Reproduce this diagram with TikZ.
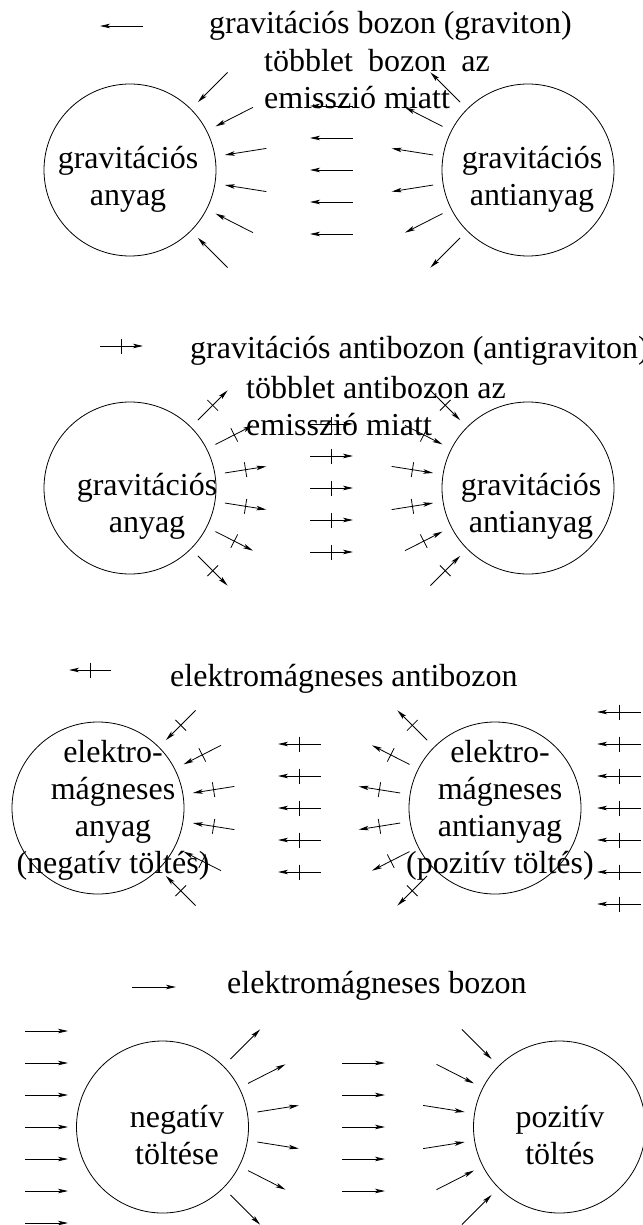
\documentclass[tikz,border=0pt]{standalone}
\usepackage{fontspec}
\setmainfont{Liberation Serif}
\usetikzlibrary{arrows.meta,calc,decorations.markings}
\tikzset{
  orb/.style={circle, draw, line width=0.8pt, minimum size=172pt, inner sep=0pt},
  lbl/.style={font=\fontsize{32}{37}\selectfont, inner sep=0pt, align=center, anchor=base},
  ttl/.style={font=\fontsize{32}{37}\selectfont, inner sep=0pt, align=left, anchor=base west},
  bos/.style={draw, line width=0.8pt, -{Stealth[length=10pt,width=4.5pt,inset=2.5pt]}},
  abos/.style={bos, postaction={decorate},
    decoration={markings, mark=at position 0.5 with {\draw[-, line width=0.8pt] (0,-7.5pt) -- (0,7.5pt);}}}
}
\begin{document}
\begin{tikzpicture}[x=1pt, y=-1pt]
  \useasboundingbox (0,0) rectangle (642,1225);
  % panel 1 (multi-line texts sit on their last baseline)
  \node[orb] (g1l) at (130,170) {};\node[orb] (g1r) at (528,170) {};
  \node[lbl] (t1l) at (128,205) {gravitációs\\anyag};
  \node[lbl] (t1r) at (532,205) {gravitációs\\antianyag};
  \draw[bos] (143,26) -- (100,26);
  \node[ttl] (h1) at (209,34) {gravitációs bozon (graviton)};
  \node[ttl] (e1) at (264,109) {többlet\hspace{15pt}bozon\hspace{15pt}az\\emisszió miatt};
  \foreach \a in {-45,-27,-9,9,27,45} {
    \draw[bos] ($(g1l)+(\a:138)$) -- ($(g1l)+(\a:96)$);
    \draw[bos] ($(g1r)+(180+\a:96)$) -- ($(g1r)+(180+\a:138)$);
  }
  \foreach \d in {-64,-32,0,32,64} \draw[bos] (353,170+\d) -- (310,170+\d);
  % panel 2
  \node[orb] (g2l) at (130,488) {};\node[orb] (g2r) at (528,488) {};
  \node[lbl] (t2l) at (147,532) {gravitációs\\anyag};
  \node[lbl] (t2r) at (531,532) {gravitációs\\antianyag};
  \draw[abos] (100,346) -- (143,346);
  \node[ttl] (h2) at (190,358) {gravitációs antibozon (antigraviton)};
  \node[ttl] (e2) at (246,435) {többlet antibozon az\\emisszió miatt};
  \foreach \a in {-45,-27,-9,9,27,45} {
    \draw[abos] ($(g2l)+(\a:96)$) -- ($(g2l)+(\a:138)$);
    \draw[abos] ($(g2r)+(180+\a:138)$) -- ($(g2r)+(180+\a:96)$);
  }
  \foreach \d in {-64,-32,0,32,64} \draw[abos] (310,488+\d) -- (353,488+\d);
  % panel 3
  \node[orb] (g3l) at (98,808) {};\node[orb] (g3r) at (495,808) {};
  \node[lbl] (t3l) at (113,873) {elektro-\\mágneses\\anyag\\(negatív töltés)};
  \node[lbl] (t3r) at (500,873) {elektro-\\mágneses\\antianyag\\(pozitív töltés)};
  \draw[abos] (111,670) -- (69,670);
  \node[ttl] (h3) at (170,686) {elektromágneses antibozon};
  \foreach \a in {-45,-27,-9,9,27,45} {
    \draw[abos] ($(g3l)+(\a:138)$) -- ($(g3l)+(\a:96)$);
    \draw[abos] ($(g3r)+(180+\a:96)$) -- ($(g3r)+(180+\a:138)$);
  }
  \foreach \d in {-64,-32,0,32,64} \draw[abos] (321,808+\d) -- (278,808+\d);
  \foreach \d in {-96,-64,-32,0,32,64,96} \draw[abos] (641,808+\d) -- (597,808+\d);
  % panel 4
  \node[orb] (g4l) at (162.5,1127) {};\node[orb] (g4r) at (559.5,1127) {};
  \node[lbl] (t4l) at (177,1164) {negatív\\töltése};
  \node[lbl] (t4r) at (560,1164) {pozitív\\töltés};
  \draw[bos] (132,987) -- (176,987);
  \node[ttl] (h4) at (227,993) {elektromágneses bozon};
  \foreach \a in {-45,-27,-9,9,27,45} {
    \draw[bos] ($(g4l)+(\a:96)$) -- ($(g4l)+(\a:138)$);
    \draw[bos] ($(g4r)+(180+\a:138)$) -- ($(g4r)+(180+\a:96)$);
  }
  \foreach \d in {-64,-32,0,32,64} \draw[bos] (342,1127+\d) -- (385,1127+\d);
  \foreach \d in {-96,-64,-32,0,32,64,96} \draw[bos] (25,1127+\d) -- (68,1127+\d);
\end{tikzpicture}
\end{document}
